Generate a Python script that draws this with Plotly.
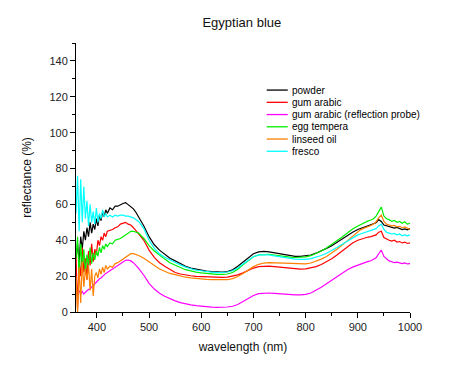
import plotly.graph_objects as go

# wavelength grid (nm)
wavelength = [360, 363, 366, 369, 372, 375, 378, 381, 384, 387, 390, 393, 396, 399, 402, 405, 408, 411, 414, 417, 420,
              425, 430, 435, 440, 445, 450, 455, 460, 465, 470, 475, 480,
              490, 500, 510, 520, 530, 540, 550, 560, 570, 580, 590, 600, 610, 620, 630, 640, 650, 660, 670, 680,
              690, 700, 710, 720, 730, 740, 750, 760, 770, 780, 790, 800, 810, 820, 830, 840, 850, 860, 870, 880, 890,
              900, 905, 910, 915, 920, 925, 930, 935, 940, 945, 950, 955, 960, 965, 970, 975, 980, 985, 990, 995, 1000]

powder = [30, 38, 28, 42, 35, 45, 40, 47, 42, 50, 44, 49, 46, 52, 48, 54, 51, 56, 53, 57, 55,
          58, 57, 59, 59, 60, 60.5, 61, 60, 59, 57.5, 55.5, 53,
          48, 42, 37.5, 34.5, 32, 30, 28.5, 27, 25.5, 24.5, 23.8, 23.3, 22.8, 22.5, 22.3, 22.3, 22.5, 23.5, 25.5, 28,
          30.5, 32.5, 33.5, 33.8, 33.5, 33, 32.3, 31.8, 31.3, 31, 31, 31.2, 31.8, 32.8, 34, 35.5, 37, 39, 41, 43, 44.5,
          46, 46.5, 47.2, 47.5, 48.2, 48.5, 49, 49.8, 51.5, 50.5, 48.5, 48, 47.5, 47, 46.8, 47.2, 46.5, 46, 46.3, 45.8, 46.5]

gum_arabic = [32, 2, 28, 20, 36, 22, 30, 18, 34, 26, 38, 28, 35, 32, 40, 37, 42, 40, 44, 42, 45,
              45.5, 46, 47, 47.5, 49, 49.5, 50, 49, 48.5, 47, 45.5, 43.5,
              40, 34.5, 30.5, 27.5, 25.5, 23.5, 22, 21.2, 20.6, 20.2, 19.9, 19.7, 19.5, 19.4, 19.3, 19.3, 19.5, 19.9, 20.7, 21.8,
              23.2, 24.5, 25.3, 25.6, 25.6, 25.3, 25, 24.6, 24.3, 24, 23.9, 24, 24.5, 25.3, 26.5, 28, 29.7, 31.8, 34, 36.3, 38.5,
              40, 40.5, 41, 41.3, 41.8, 42, 42.5, 43, 44.5, 45, 41.5, 40.5, 40, 39.5, 40, 39, 39.3, 38.5, 39, 38.2, 38.5]

gum_arabic_probe = [None, None, 12, 10, 11.5, 10, 11, 12, 12.5, 13, 14, 15, 16, 17, 17.5, 18.5, 19, 20, 20.5, 21.5, 22,
                    23, 24, 25.2, 26.3, 27.3, 28.2, 28.8, 29, 28.5, 27.5, 26, 24.3,
                    20.5, 16, 12.8, 10.5, 8.8, 7.4, 6.2, 5.2, 4.5, 4, 3.6, 3.2, 2.9, 2.7, 2.6, 2.6, 2.8, 3.2, 4.2, 5.8,
                    7.6, 9.2, 10.2, 10.6, 10.6, 10.4, 10.1, 9.8, 9.6, 9.5, 9.5, 9.8, 10.6, 12, 13.8, 15.8, 17.8, 19.8, 21.8, 23.6, 25,
                    26.2, 26.8, 27.3, 27.7, 28.2, 28.6, 29.2, 30.2, 32.5, 34.5, 31, 29.5, 28.5, 28, 27.5, 27.8, 27.2, 27, 27.4, 26.8, 27]

egg_tempera = [30, 42, 20, 38, 25, 35, 22, 32, 26, 36, 27, 33, 29, 34, 31, 36, 33, 37, 35, 38, 36.5,
               38.5, 38, 40, 40.5, 41, 42, 43, 44.5, 45, 45, 44.5, 44,
               41, 37, 34, 31.5, 29.5, 27.5, 26, 24.8, 23.6, 22.8, 22.2, 21.8, 21.4, 21.2, 21, 21, 21.2, 22, 23.8, 26.3,
               28.8, 30.8, 31.8, 32.2, 32.2, 31.8, 31.3, 30.9, 30.6, 30.4, 30.4, 30.7, 31.4, 32.5, 34, 35.7, 37.6, 39.6, 41.8, 44, 46.3,
               48, 48.8, 49.5, 50, 50.8, 51.3, 52, 53.5, 56, 58.5, 53.5, 52, 51.5, 50.5, 51, 50, 50.5, 49.5, 50.3, 49, 49.5]

linseed_oil = [20, 0, 25, 5, 28, 14, 24, 18, 26, 12, 24, 9, 20, 22, 19, 24, 21, 25, 22, 26, 24,
               25.5, 25, 27, 27.5, 28.5, 30, 30.5, 31.5, 32.5, 32.5, 32, 31.5,
               30, 28, 26, 24, 22.7, 21.5, 20.8, 20, 19.4, 19, 18.6, 18.4, 18.2, 18, 17.9, 17.9, 18, 18.6, 19.8, 21.5,
               23.5, 25.3, 26.6, 27.3, 27.5, 27.4, 27.2, 27, 26.8, 26.7, 26.7, 26.8, 27.3, 28.2, 29.5, 31, 32.8, 35, 37.3, 39.8, 42.5,
               45, 45.8, 46.5, 47, 47.7, 48.2, 49, 50.3, 52.5, 54, 50.5, 49, 48.5, 48, 48.3, 47.5, 47.8, 47, 47.4, 46.5, 46]

fresco = [55, 76, 45, 74, 50, 70, 52, 62, 48, 60, 50, 56, 49, 58, 50, 55, 52, 57, 53, 55, 53,
          54, 53, 54, 53.5, 54, 54, 53.5, 53.5, 53, 52.5, 51.5, 50.5,
          46.5, 40, 35.5, 32.5, 30.5, 29, 27.6, 26.3, 25, 24, 23.3, 23, 22.5, 22.2, 22, 22, 22.3, 23, 24.5, 26.8,
          29, 30.8, 31.8, 32, 31.8, 31.3, 30.8, 30.3, 29.8, 29.5, 29.3, 29.3, 29.8, 30.5, 31.5, 32.8, 34.2, 36, 37.8, 39.6, 41.5,
          43, 43.5, 44, 44.5, 45, 45.3, 45.8, 46.5, 48, 49, 46, 44.5, 44, 43.5, 43.8, 43, 43.5, 42.5, 43, 42.5, 43]

series_names = ["powder", "gum arabic", "gum arabic (reflection probe)", "egg tempera", "linseed oil", "fresco"]
series_values = [powder, gum_arabic, gum_arabic_probe, egg_tempera, linseed_oil, fresco]
series_colors = ["#000000", "#ff0000", "#ff00ff", "#00ee00", "#ff8000", "#00ffff"]

x_ticks = [400, 500, 600, 700, 800, 900, 1000]
y_ticks = [0, 20, 40, 60, 80, 100, 120, 140]

FONT = "Liberation Sans, Arial, sans-serif"

fig = go.Figure()
for name, vals, col in zip(series_names, series_values, series_colors):
    fig.add_trace(go.Scatter(x=wavelength, y=vals, mode="lines", name=name,
                             line=dict(color=col, width=1.2), showlegend=False))

# hand-built compact legend (paper coordinates)
leg_x0, leg_x1, leg_top, leg_step = 0.571, 0.634, 0.825, 0.0455
for i, (name, col) in enumerate(zip(series_names, series_colors)):
    yy = leg_top - i * leg_step
    fig.add_shape(type="line", xref="paper", yref="paper", x0=leg_x0, x1=leg_x1, y0=yy, y1=yy,
                  line=dict(color=col, width=1.3))
    fig.add_annotation(xref="paper", yref="paper", x=leg_x1 + 0.008, y=yy, text=name, showarrow=False,
                       xanchor="left", yanchor="middle", font=dict(family=FONT, size=10, color="#000"))

fig.update_layout(
    width=464, height=363,
    margin=dict(l=68, r=62, t=35, b=59),
    paper_bgcolor="white", plot_bgcolor="white",
    font=dict(family=FONT, size=11, color="#222"),
    title=dict(text="Egyptian blue", x=0.504, xanchor="center", y=0.9595, yanchor="middle",
               font=dict(family=FONT, size=13, color="#111")),
)
fig.update_xaxes(range=[360, 1000], tickvals=x_ticks, ticks="outside", ticklen=5, tickwidth=1, tickcolor="#000",
                 showline=True, linecolor="#000", linewidth=1, showgrid=False, zeroline=False,
                 minor=dict(dtick=50, tick0=0, ticks="outside", ticklen=3, tickcolor="#000", showgrid=False),
                 title=dict(text="wavelength (nm)", font=dict(family=FONT, size=12, color="#111"), standoff=10),
                 tickfont=dict(size=11))
fig.update_yaxes(range=[0, 150], tickvals=y_ticks, ticks="outside", ticklen=5, tickwidth=1, tickcolor="#000",
                 showline=True, linecolor="#000", linewidth=1, showgrid=False, zeroline=False,
                 minor=dict(dtick=10, tick0=0, ticks="outside", ticklen=3, tickcolor="#000", showgrid=False),
                 title=dict(text="reflectance (%)", font=dict(family=FONT, size=12, color="#111"), standoff=15),
                 tickfont=dict(size=11))

fig.write_html("out.html")
